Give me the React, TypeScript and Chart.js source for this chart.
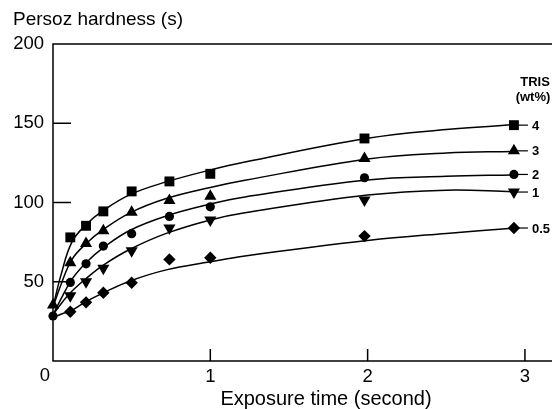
import React, { useEffect, useRef } from 'react';
import { Chart, registerables } from 'chart.js';

Chart.register(...registerables);

// ---- Data ----
const markerX = [0.11, 0.21, 0.32, 0.5, 0.74, 1.0, 1.98, 2.93];
const tris4 = [78.0, 85.3, 94.4, 107.0, 113.3, 118.1, 140.4, 148.8];
const tris3 = [62.0, 74.2, 82.2, 93.8, 101.3, 104.0, 127.8, 132.6];
const tris2 = [49.6, 61.3, 72.5, 80.3, 91.2, 97.3, 115.6, 117.7];
const tris1 = [41.2, 50.0, 58.5, 69.6, 83.9, 88.9, 101.5, 106.6];
const tris05 = [31.1, 37.0, 43.1, 49.4, 64.1, 65.1, 78.8, 83.9];
const originX = 0;
const origin3 = 35.3;
const origin2 = 28.4;

const curveX = [0, 0.05, 0.12, 0.21, 0.32, 0.49, 0.72, 1.0, 1.22, 2.0, 2.5, 2.92];
const fit4 = [34, 54, 75, 86, 95, 105, 113, 120.5, 125.5, 140.5, 146, 149];
const fit3 = [34, 48, 64, 74, 83, 93.5, 102.5, 109.5, 114, 127.5, 131.3, 132.2];
const fit2 = [29, 39, 51.5, 62, 71.5, 82.5, 91.5, 99, 103.5, 114.2, 116.5, 117.4];
const fit1 = [29, 36, 44, 52, 60.5, 70.5, 80.5, 89, 93.5, 104.7, 107.8, 106.8];
const fit05 = [27.5, 29.5, 32, 37.5, 43, 50.5, 57.5, 62.6, 66.3, 76, 80.5, 83.7];

const seriesLabels = ['4', '3', '2', '1', '0.5'];
const legendTitle = ['TRIS', '(wt%)'];
const yTitle = 'Persoz hardness (s)';
const xTitle = 'Exposure time (second)';
const yTickValues = [50, 100, 150];
const xTickValues = [1, 2, 3];

const FONT = "'Liberation Sans', Arial, Helvetica, sans-serif";

const pts = (xs: number[], ys: number[]) => xs.map((x, i) => ({ x, y: ys[i] }));

export default function App() {
  const ref = useRef<HTMLCanvasElement | null>(null);

  useEffect(() => {
    if (!ref.current) return;

    const markerSets = [
      { data: pts(markerX, tris4), style: 'rect', radius: 7, rot: 0 },
      { data: [{ x: originX, y: origin3 }, ...pts(markerX, tris3)], style: 'triangle', radius: 7, rot: 0 },
      { data: [{ x: originX, y: origin2 }, ...pts(markerX, tris2)], style: 'circle', radius: 4.6, rot: 0 },
      { data: pts(markerX, tris1), style: 'triangle', radius: 7, rot: 180 },
      { data: pts(markerX, tris05), style: 'rectRot', radius: 6.2, rot: 0 },
    ];
    const curves = [fit4, fit3, fit2, fit1, fit05];

    const datasets: any[] = [];
    curves.forEach((c) => {
      datasets.push({
        data: pts(curveX, c),
        showLine: true,
        borderColor: '#000',
        borderWidth: 1.5,
        pointRadius: 0,
        tension: 0.4,
        fill: false,
        clip: false,
        order: 1,
      });
    });
    markerSets.forEach((m) => {
      datasets.push({
        data: m.data,
        showLine: false,
        pointStyle: m.style,
        pointRadius: m.radius,
        pointRotation: m.rot,
        backgroundColor: '#000',
        borderColor: '#000',
        borderWidth: 0,
        clip: false,
        order: 0,
      });
    });

    const overlay = {
      id: 'overlay',
      afterDraw(chart: any) {
        const { ctx, chartArea, scales } = chart;
        const { left, right, top, bottom } = chartArea;
        const xs = scales.x;
        const ys = scales.y;
        ctx.save();
        ctx.strokeStyle = '#000';
        ctx.lineWidth = 1.5;
        ctx.beginPath();
        ctx.moveTo(right, top);
        ctx.lineTo(left, top);
        ctx.lineTo(left, bottom);
        ctx.lineTo(right, bottom);
        ctx.stroke();
        ctx.beginPath();
        yTickValues.forEach((v) => {
          const py = ys.getPixelForValue(v);
          ctx.moveTo(left, py);
          ctx.lineTo(left + 18, py);
        });
        xTickValues.forEach((v) => {
          const px = xs.getPixelForValue(v);
          ctx.moveTo(px, bottom);
          ctx.lineTo(px, bottom - 12);
        });
        ctx.stroke();

        // leader lines + series labels
        ctx.lineWidth = 1.2;
        ctx.fillStyle = '#000';
        ctx.font = `bold 13px ${FONT}`;
        ctx.textBaseline = 'middle';
        ctx.textAlign = 'left';
        markerSets.forEach((m, i) => {
          const last = m.data[m.data.length - 1];
          const px = xs.getPixelForValue(last.x);
          const py = ys.getPixelForValue(last.y);
          ctx.beginPath();
          ctx.moveTo(px, py);
          ctx.lineTo(px + 14, py);
          ctx.stroke();
          ctx.fillText(seriesLabels[i], px + 18, py + 1);
        });
        ctx.textAlign = 'center';
        ctx.fillText(legendTitle[0], 535, 82);
        ctx.fillText(legendTitle[1], 533, 97);

        // titles and origin label
        ctx.font = `19px ${FONT}`;
        ctx.textAlign = 'left';
        ctx.fillText(yTitle, 13, 20);
        ctx.font = `20px ${FONT}`;
        ctx.textAlign = 'center';
        ctx.fillText(xTitle, 326, 399);
        ctx.font = `18.5px ${FONT}`;
        ctx.fillText('0', 45, 376);
        ctx.restore();
      },
    };

    const chart = new Chart(ref.current, {
      type: 'scatter',
      data: { datasets },
      options: {
        animation: false,
        responsive: false,
        events: [],
        layout: { autoPadding: false, padding: { top: 44, right: 0, left: 0, bottom: 0 } },
        plugins: { legend: { display: false }, tooltip: { enabled: false } },
        scales: {
          x: {
            type: 'linear',
            min: 0,
            max: 3.172,
            afterFit: (s: any) => {
              s.height = 48;
            },
            grid: { display: false, drawTicks: false },
            border: { display: false },
            ticks: {
              stepSize: 1,
              includeBounds: false,
              padding: 5,
              color: '#000',
              font: { family: FONT, size: 18.5 },
              maxRotation: 0,
              autoSkip: false,
              callback: (v: any) => (v === 0 || !Number.isInteger(v) ? '' : String(v)),
            },
          },
          y: {
            min: 0,
            max: 200,
            afterFit: (s: any) => {
              s.width = 53;
            },
            grid: { display: false, drawTicks: false },
            border: { display: false },
            ticks: {
              stepSize: 50,
              padding: 9,
              color: '#000',
              font: { family: FONT, size: 18.5 },
              callback: (v: any) => (v === 0 ? '' : String(v)),
            },
          },
        },
      },
      plugins: [overlay],
    } as any);

    return () => chart.destroy();
  }, []);

  return (
    <div style={{ position: 'fixed', left: 0, top: 0, width: 552, height: 409, background: '#fff' }}>
      <canvas ref={ref} width={552} height={409} style={{ display: 'block', width: 552, height: 409 }} />
    </div>
  );
}
